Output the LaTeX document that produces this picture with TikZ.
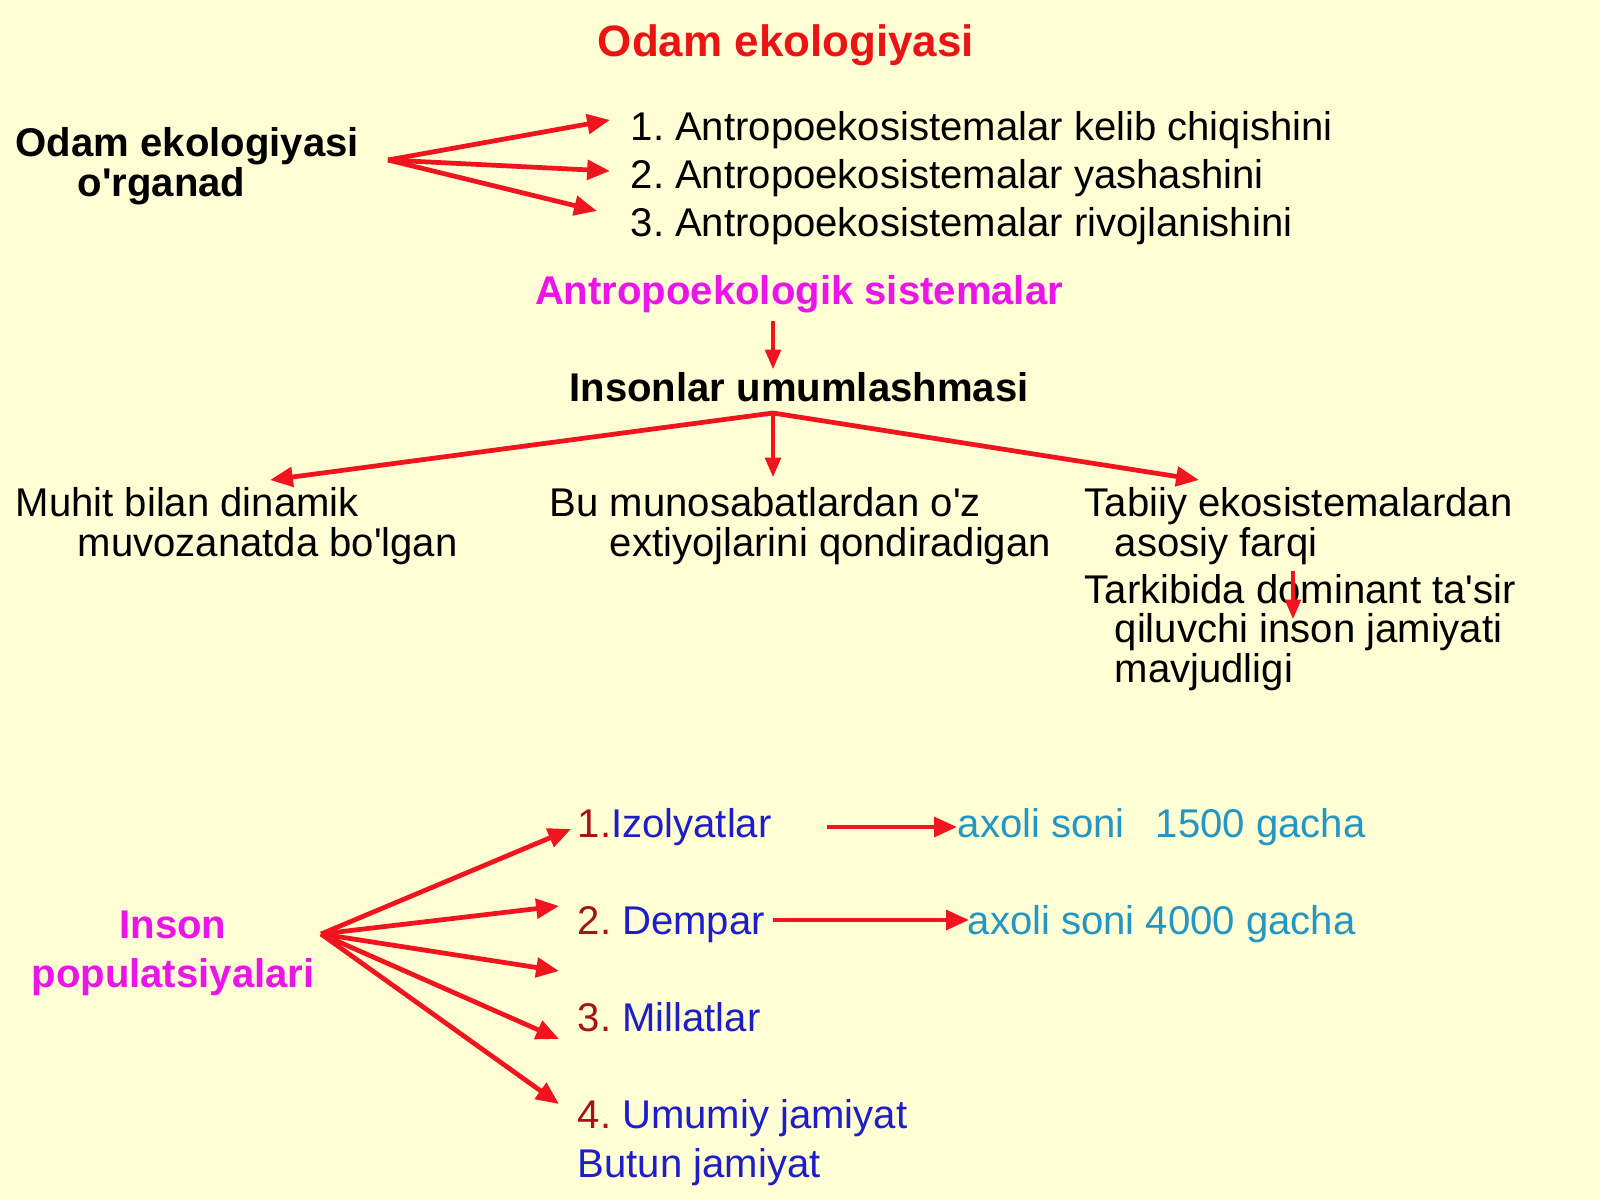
\documentclass[tikz,border=0pt]{standalone}
\usepackage{fontspec}
\setmainfont{Liberation Sans}
\usetikzlibrary{arrows.meta}
\frenchspacing

\definecolor{bgyellow}{RGB}{254,253,212}
\definecolor{arrowred}{RGB}{240,20,30}
\definecolor{titlered}{RGB}{235,20,20}
\definecolor{headpink}{RGB}{235,20,235}
\definecolor{numred}{RGB}{165,20,20}
\definecolor{popblue}{RGB}{30,30,200}
\definecolor{countteal}{RGB}{35,150,195}

\newcommand{\mainsize}{\fontsize{11.4}{11.1}\selectfont}
\newcommand{\widesize}{\fontsize{11.4}{13.9}\selectfont}
\newcommand{\apos}{\textquotesingle}

\begin{document}
\begin{tikzpicture}[x=0.01cm,y=-0.01cm,
  every node/.style={inner sep=0pt, anchor=base west, font=\mainsize},
  heavy/.style={draw=arrowred, line width=1.35pt, -{Triangle[length=6.5pt,width=5.5pt]}},
  light/.style={draw=arrowred, line width=0.9pt, -{Triangle[length=5.5pt,width=4.5pt]}}]

  \fill[bgyellow] (0,0) rectangle (1600,1200);
  \useasboundingbox (0,0) rectangle (1600,1200);

  % heading and first fan
  \node[anchor=base, font=\bfseries\fontsize{12.5}{14}\selectfont, text=titlered] (title) at (786,56) {Odam ekologiyasi};
  \node[font=\mainsize\bfseries, align=left] (odam) at (15,196) {Odam ekologiyasi\\\hspace*{0.62cm}o\apos rganad};
  \node (l1) at (630,140) {1. Antropoekosistemalar kelib chiqishini};
  \node (l2) at (630,188) {2. Antropoekosistemalar yashashini};
  \node (l3) at (630,236) {3. Antropoekosistemalar rivojlanishini};

  \coordinate (hub1) at (388,160);
  \coordinate (t1) at (610,120);
  \coordinate (t2) at (610,171);
  \coordinate (t3) at (597,211);
  \draw[heavy] (hub1) -- (t1);
  \draw[heavy] (hub1) -- (t2);
  \draw[heavy] (hub1) -- (t3);

  % systems
  \node[anchor=base, font=\mainsize\bfseries, text=headpink] (antro) at (799,304) {Antropoekologik sistemalar};
  \node[anchor=base, font=\mainsize\bfseries] (inson) at (799,401) {Insonlar umumlashmasi};
  \coordinate (antrodown) at (773,321);
  \coordinate (insonup) at (773,369);
  \draw[light] (antrodown) -- (insonup);

  \node[align=left] (muhit) at (15,556) {Muhit bilan dinamik\\\hspace*{0.62cm}muvozanatda bo\apos lgan};
  \node[align=left] (munos) at (549,556) {Bu munosabatlardan o\apos z\\\hspace*{0.6cm}extiyojlarini qondiradigan};
  \node[align=left] (tabiiy) at (1084,556) {Tabiiy ekosistemalardan\\\hspace*{0.3cm}asosiy farqi};
  \node[align=left] (tarkib) at (1084,682) {Tarkibida dominant ta\apos sir\\\hspace*{0.3cm}qiluvchi inson jamiyati\\\hspace*{0.3cm}mavjudligi};

  \coordinate (hub2) at (773,413);
  \coordinate (tm) at (270,480);
  \coordinate (tb) at (773,477);
  \coordinate (tt) at (1199,480);
  \draw[heavy] (hub2) -- (tm);
  \draw[light] (hub2) -- (tb);
  \draw[heavy] (hub2) -- (tt);
  \coordinate (farqtop) at (1293,571);
  \coordinate (farqtip) at (1293,619);
  \draw[light] (farqtop) -- (farqtip);

  % populations
  \node[anchor=base, align=center, font=\widesize\bfseries, text=headpink] (pop) at (173,987) {Inson\\populatsiyalari};
  \node (izol) at (577,837) {\textcolor{numred}{1.}\textcolor{popblue}{Izolyatlar}};
  \node (demp) at (577,934) {\textcolor{numred}{2.} \textcolor{popblue}{Dempar}};
  \node (mill) at (577,1031) {\textcolor{numred}{3.} \textcolor{popblue}{Millatlar}};
  \node[align=left, font=\widesize] (umum) at (577,1177) {\textcolor{numred}{4.} \textcolor{popblue}{Umumiy jamiyat}\\\textcolor{popblue}{Butun jamiyat}};
  \node[text=countteal] (ax1) at (957,837) {axoli soni \hspace{0.2cm}1500 gacha};
  \node[text=countteal] (ax2) at (967,934) {axoli soni 4000 gacha};

  \coordinate (hub3) at (321,934);
  \coordinate (p1) at (571,829);
  \coordinate (p2) at (559,906);
  \coordinate (p3) at (559,971);
  \coordinate (p4) at (559,1039);
  \coordinate (p5) at (559,1104);
  \draw[heavy] (hub3) -- (p1);
  \draw[heavy] (hub3) -- (p2);
  \draw[heavy] (hub3) -- (p3);
  \draw[heavy] (hub3) -- (p4);
  \draw[heavy] (hub3) -- (p5);

  \coordinate (izolr) at (827,827);
  \coordinate (ax1l) at (957,827);
  \coordinate (dempr) at (773,920);
  \coordinate (ax2l) at (969,920);
  \draw[heavy] (izolr) -- (ax1l);
  \draw[heavy] (dempr) -- (ax2l);
\end{tikzpicture}
\end{document}
